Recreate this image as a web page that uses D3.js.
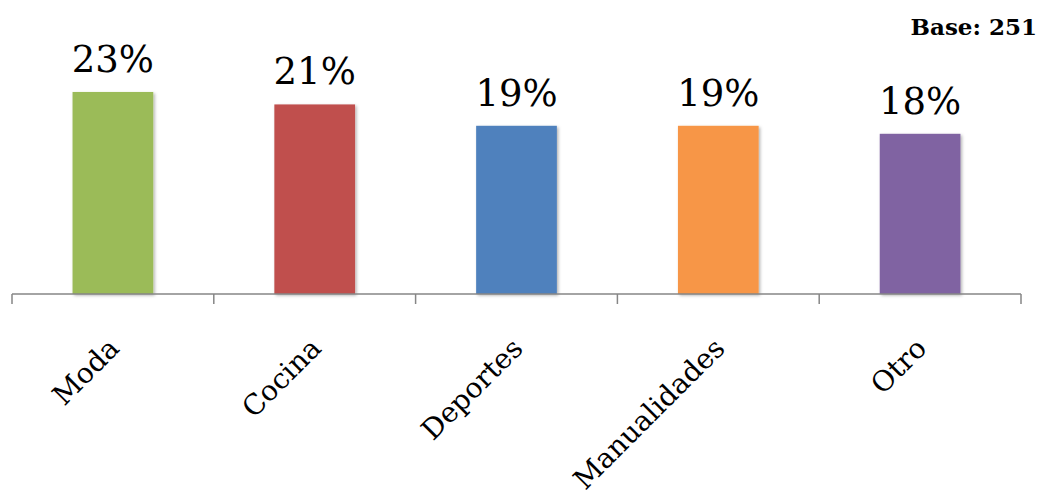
<!DOCTYPE html>
<html>
<head>
<meta charset="utf-8">
<script src="https://cdn.jsdelivr.net/npm/d3@7"></script>
<style>
  body { margin: 0; background: #fff; }
  text { font-family: "DejaVu Serif", serif; }
</style>
</head>
<body>
<div id="chart"></div>
<script>
// categories and values
const categories = ["Moda", "Cocina", "Deportes", "Manualidades", "Otro"];
const values = [22.7, 21.3, 18.9, 18.9, 18.0];
const valueLabels = ["23%", "21%", "19%", "19%", "18%"];
const barColors = ["#9BBB59", "#C0504D", "#4F81BD", "#F79646", "#8064A2"];
const baseNote = "Base: 251";

let width = 1043;
let height = 493;

const svg = d3.select("#chart")
    .append("svg")
    .attr("width", width)
    .attr("height", height);

// soft shadow like the office chart
const defs = svg.append("defs");
defs.append("filter")
    .attr("id", "shadow")
    .attr("x", "-20%").attr("y", "-20%")
    .attr("width", "140%").attr("height", "140%")
    .append("feDropShadow")
    .attr("dx", 1.5).attr("dy", 1.5)
    .attr("stdDeviation", 1.5)
    .attr("flood-color", "#000")
    .attr("flood-opacity", 0.3);

const x = d3.scaleBand()
    .domain(categories)
    .range([12, 1021])
    .paddingInner(0.6)
    .paddingOuter(0.3);

const axisY = 294;
const y = d3.scaleLinear()
    .domain([0, 25])
    .range([axisY, axisY - 25 * 8.9]);

// bars
svg.selectAll(".bar")
    .data(categories)
    .join("rect")
    .attr("class", "bar")
    .attr("x", d => x(d))
    .attr("y", (d, i) => y(values[i]))
    .attr("width", x.bandwidth())
    .attr("height", (d, i) => axisY - y(values[i]))
    .attr("fill", (d, i) => barColors[i])
    .attr("filter", "url(#shadow)");

// value labels
svg.selectAll(".vlabel")
    .data(categories)
    .join("text")
    .attr("class", "vlabel")
    .attr("x", d => x(d) + x.bandwidth() / 2)
    .attr("y", (d, i) => y(values[i]) - 20)
    .attr("text-anchor", "middle")
    .attr("font-size", "37px")
    .attr("fill", "#000")
    .text((d, i) => valueLabels[i]);

// axis line and ticks between categories
const tickX = d3.scaleLinear().domain([0, categories.length]).range([12, 1021]);
const axis = svg.append("g").attr("stroke", "#868686").attr("stroke-width", 1.5);
axis.append("line")
    .attr("x1", tickX(0)).attr("x2", tickX(categories.length))
    .attr("y1", axisY).attr("y2", axisY);
axis.selectAll(".tick")
    .data(d3.range(categories.length + 1))
    .join("line")
    .attr("x1", d => tickX(d)).attr("x2", d => tickX(d))
    .attr("y1", axisY).attr("y2", axisY + 10);

// rotated category labels
svg.selectAll(".clabel")
    .data(categories)
    .join("text")
    .attr("class", "clabel")
    .attr("text-anchor", "end")
    .attr("font-size", "28px")
    .attr("fill", "#000")
    .attr("transform", d => `translate(${x(d) + x.bandwidth() / 2 + 8},${axisY + 56}) rotate(-45)`)
    .text(d => d);

// base note
svg.append("text")
    .attr("x", 1037)
    .attr("y", 35)
    .attr("text-anchor", "end")
    .attr("font-size", "23px")
    .attr("font-weight", "bold")
    .text(baseNote);
</script>
</body>
</html>
